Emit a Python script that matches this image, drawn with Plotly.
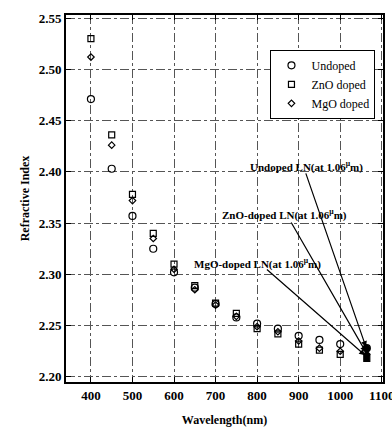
import plotly.graph_objects as go

wavelength = [400, 450, 500, 550, 600, 650, 700, 750, 800, 850, 900, 950, 1000, 1064]
undoped = [2.471, 2.403, 2.357, 2.325, 2.302, 2.287, 2.271, 2.258, 2.252, 2.247, 2.240, 2.236, 2.232, 2.228]
zno_doped = [2.530, 2.436, 2.378, 2.340, 2.310, 2.289, 2.272, 2.262, 2.247, 2.242, 2.232, 2.226, 2.222, 2.218]
mgo_doped = [2.512, 2.426, 2.372, 2.335, 2.305, 2.285, 2.270, 2.259, 2.249, 2.244, 2.235, 2.228, 2.225, 2.222]

x_ticks = [400, 500, 600, 700, 800, 900, 1000, 1100]
y_ticks = [2.20, 2.25, 2.30, 2.35, 2.40, 2.45, 2.50, 2.55]

labels = ["Undoped LN(at 1.06<sup>μ</sup>m)", "ZnO-doped LN(at 1.06<sup>μ</sup>m)", "MgO-doped LN(at 1.06<sup>μ</sup>m)"]
label_pos = [(918, 2.405), (866, 2.358), (800, 2.311)]
arrow_start = [(916, 2.400), (880, 2.352), (820, 2.306)]
arrow_end = [(1062, 2.229), (1062, 2.224), (1060, 2.221)]

SERIF = "Liberation Serif"

def symbols(base, n):
    # open markers, with the 1.06 µm point drawn solid
    return [base + "-open"] * (n - 1) + [base]

fig = go.Figure()
series = [
    ("Undoped", undoped, "circle", 7),
    ("ZnO doped", zno_doped, "square", 6),
    ("MgO doped", mgo_doped, "diamond", 5),
]
for name, vals, sym, size in series:
    fig.add_trace(go.Scatter(
        x=wavelength, y=vals, mode="markers", name=name,
        marker=dict(symbol=symbols(sym, len(vals)), size=size, color="black",
                    line=dict(color="black", width=1.2)),
    ))

for txt, (tx, ty) in zip(labels, label_pos):
    fig.add_annotation(x=tx, y=ty, xref="x", yref="y", text="<b>" + txt + "</b>", showarrow=False,
                       font=dict(family=SERIF, size=11, color="black"))

for (sx, sy), (ex, ey) in zip(arrow_start, arrow_end):
    fig.add_annotation(x=ex, y=ey, ax=sx, ay=sy, xref="x", yref="y",
                       axref="x", ayref="y", text="", showarrow=True,
                       arrowhead=2, arrowsize=1, arrowwidth=1.2, arrowcolor="black")

axis_common = dict(
    showline=True, linecolor="black", linewidth=2, mirror="ticks",
    ticks="inside", ticklen=5, tickcolor="black",
    showgrid=True, gridcolor="#555", griddash="dashdot", gridwidth=0.7,
    zeroline=False, automargin=False, ticklabeloverflow="allow",
)

fig.update_layout(
    width=392, height=428,
    margin=dict(l=66, r=9, t=15, b=46),
    paper_bgcolor="white", plot_bgcolor="white",
    showlegend=True,
    legend=dict(x=0.645, y=0.905, xanchor="left", yanchor="top",
                bordercolor="black", borderwidth=1, bgcolor="white",
                font=dict(family=SERIF, size=12, color="black"),
                tracegroupgap=0, itemwidth=30),
    xaxis=dict(range=[340, 1103], tickvals=x_ticks,
               ticktext=["<b>%d</b>" % v for v in x_ticks],
               tickfont=dict(family=SERIF, size=13, color="black"),
               title=dict(text="<b>Wavelength(nm)</b>", font=dict(family=SERIF, size=12, color="black"),
                          standoff=14),
               **axis_common),
    yaxis=dict(range=[2.195, 2.553], tickvals=y_ticks,
               ticktext=["<b>%.2f</b>" % v for v in y_ticks],
               tickfont=dict(family=SERIF, size=13, color="black"),
               title=dict(text="<b>Refractive Index</b>", font=dict(family=SERIF, size=12, color="black"),
                          standoff=6),
               **axis_common),
)

fig.write_html("out.html")
